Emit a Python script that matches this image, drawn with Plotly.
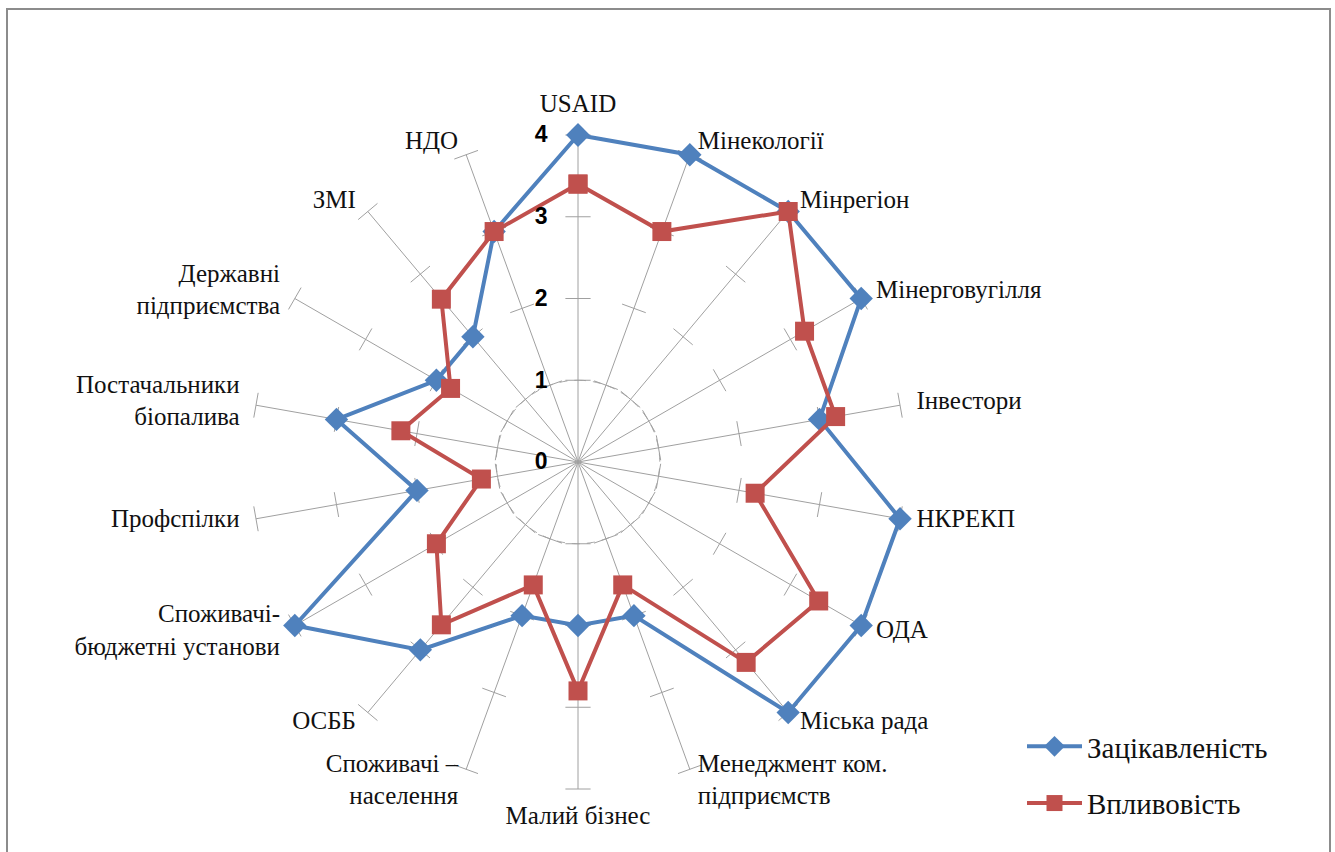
import numpy as np
import plotly.graph_objects as go

categories = [
    "USAID", "Мінекології", "Мінрегіон", "Мінерговугілля", "Інвестори",
    "НКРЕКП", "ОДА", "Міська рада", "Менеджмент ком.<br>підприємств",
    "Малий бізнес", "Споживачі –<br>населення", "ОСББ",
    "Споживачі-<br>бюджетні установи", "Профспілки",
    "Постачальники<br>біопалива", "Державні<br>підприємства", "ЗМІ", "НДО",
]
interest = [4, 4, 4, 4, 3, 4, 4, 4, 2, 2, 2, 3, 4, 2, 3, 2, 2, 3]
influence = [3.4, 3, 4, 3.2, 3.2, 2.2, 3.4, 3.2, 1.6, 2.8, 1.6, 2.6, 2, 1.2, 2.2, 1.8, 2.6, 3]
series_names = ["Зацікавленість", "Впливовість"]
radial_ticks = [0, 1, 2, 3, 4]

n = len(categories)
theta = [i * 360 / n for i in range(n)]
theta_closed = theta + [theta[0]]

GRID = "#A0A0A0"
SERIF = "Liberation Serif"
RMAX = radial_ticks[-1]
RLAB = RMAX + 0.16     # label ring just outside the spokes
RANGE = RMAX + 0.17

fig = go.Figure()

# spokes
sr, st = [], []
for t in theta:
    sr += [0, RMAX, None]
    st += [t, t, None]
fig.add_trace(go.Scatterpolar(
    r=sr, theta=st, mode="lines", line=dict(color=GRID, width=1),
    showlegend=False, hoverinfo="skip", connectgaps=False))

# dashed circle at r=1
circ_t = np.arange(0, 361, 1)
fig.add_trace(go.Scatterpolar(
    r=[radial_ticks[1]] * len(circ_t), theta=circ_t, mode="lines",
    line=dict(color=GRID, width=1, dash="8px,7px"),
    showlegend=False, hoverinfo="skip"))

# tick marks on each spoke
tr, tt = [], []
for t in theta:
    for rv in radial_ticks[1:]:
        tr.append(rv)
        tt.append(t)
fig.add_trace(go.Scatterpolar(
    r=tr, theta=tt, mode="markers",
    marker=dict(symbol="line-ew", size=18, angle=tt,
                line=dict(color=GRID, width=1), color=GRID),
    showlegend=False, hoverinfo="skip"))

fig.add_trace(go.Scatterpolar(
    r=interest + [interest[0]], theta=theta_closed, mode="lines+markers",
    name=series_names[0], legendgroup="a",
    line=dict(color="#4F81BD", width=4),
    marker=dict(symbol="diamond", size=18, color="#4F81BD")))
fig.add_trace(go.Scatterpolar(
    r=influence + [influence[0]], theta=theta_closed, mode="lines+markers",
    name=series_names[1], legendgroup="b",
    line=dict(color="#C0504D", width=4),
    marker=dict(symbol="square", size=19, color="#C0504D")))

# category labels
def label_pos(t):
    if t == 0:
        return "top center"
    if t == 180:
        return "bottom center"
    return "middle right" if t < 180 else "middle left"

fig.add_trace(go.Scatterpolar(
    r=[RLAB] * n, theta=theta, mode="markers+text", text=categories,
    textposition=[label_pos(t) for t in theta],
    marker=dict(size=4, color="rgba(0,0,0,0)"),
    textfont=dict(family=SERIF, size=25, color="#111"),
    cliponaxis=False, showlegend=False, hoverinfo="skip"))

W, H = 1335, 852
CX, CY = 578, 462
R_PX = 81.75 * RANGE
fig.update_layout(
    width=W, height=H,
    margin=dict(l=0, r=0, t=0, b=0),
    paper_bgcolor="white", plot_bgcolor="white",
    polar=dict(
        domain=dict(x=[(CX - R_PX) / W, (CX + R_PX) / W],
                    y=[(H - CY - R_PX) / H, (H - CY + R_PX) / H]),
        bgcolor="rgba(0,0,0,0)",
        angularaxis=dict(
            type="linear", rotation=90, direction="clockwise",
            tickmode="array", tickvals=theta, showticklabels=False,
            showgrid=False, showline=False, ticks="",
        ),
        radialaxis=dict(
            range=[0, RANGE], angle=90, side="counterclockwise",
            tickmode="array", tickvals=radial_ticks,
            showgrid=False, showline=False,
            ticks="outside", ticklen=22, tickcolor="rgba(0,0,0,0)",
            tickangle=90,
            tickfont=dict(family="Liberation Sans", size=23, color="black", weight="bold"),
        ),
    ),
    legend=dict(
        x=1022 / W, y=1 - 721 / H, xanchor="left", yanchor="top",
        font=dict(family=SERIF, size=29, color="#111"),
        itemwidth=55, tracegroupgap=16, traceorder="grouped",
        bgcolor="rgba(0,0,0,0)",
    ),
    shapes=[dict(type="rect", xref="paper", yref="paper",
                 x0=7 / W, x1=1330 / W, y0=-0.1, y1=1 - 9 / H,
                 line=dict(color="#8C8C8C", width=2), fillcolor="rgba(0,0,0,0)")],
)

fig.write_html("out.html", config={"displayModeBar": False},
               post_script="document.body.style.margin='0';")
